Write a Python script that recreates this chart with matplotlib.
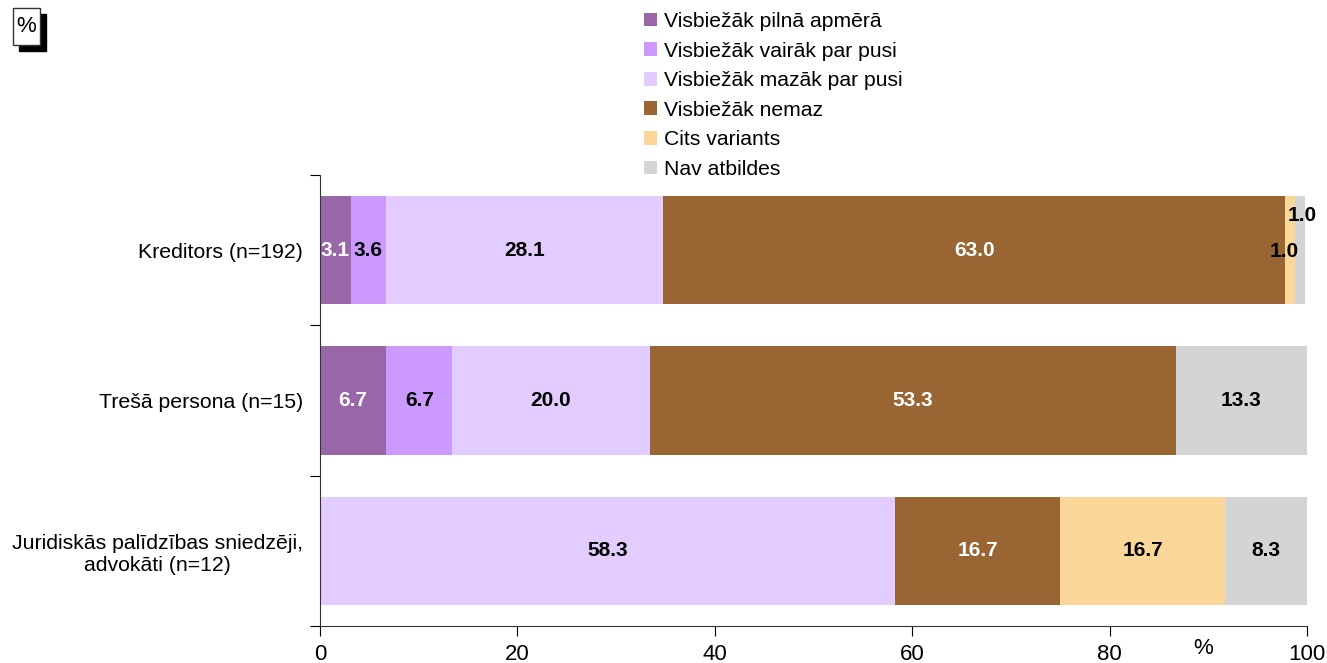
import matplotlib
matplotlib.use("Agg")
import matplotlib.pyplot as plt
from matplotlib.patches import Rectangle
import numpy as np

plt.rcParams['font.family'] = ['Liberation Sans', 'DejaVu Sans']

categories = ["Kreditors (n=192)", "Trešā persona (n=15)",
              "Juridiskās palīdzības sniedzēji,\nadvokāti (n=12)"]
series = ["Visbiežāk pilnā apmērā", "Visbiežāk vairāk par pusi",
          "Visbiežāk mazāk par pusi", "Visbiežāk nemaz",
          "Cits variants", "Nav atbildes"]
pilna = [3.1, 6.7, 0.0]
vairak = [3.6, 6.7, 0.0]
mazak = [28.1, 20.0, 58.3]
nemaz = [63.0, 53.3, 16.7]
cits = [1.0, 0.0, 16.7]
nav = [1.0, 13.3, 8.3]
values = [pilna, vairak, mazak, nemaz, cits, nav]
colors = ["#9966a8", "#cc99ff", "#e3ccff", "#996633", "#fad799", "#d4d4d4"]
label_colors = ["white", "black", "black", "white", "black", "black"]
xticks = [0, 20, 40, 60, 80, 100]

fig = plt.figure(figsize=(13.27, 6.63), dpi=100)
ax = fig.add_axes([320/1327, 1-626/663, (1307-320)/1327, (626-175)/663])

y = np.arange(len(categories))
left = np.zeros(len(categories))
handles = []
for i, (name, vals) in enumerate(zip(series, values)):
    vals = np.array(vals)
    h = ax.barh(y, vals, left=left, height=0.72, color=colors[i], label=name)
    handles.append(h)
    for j, v in enumerate(vals):
        if v <= 0:
            continue
        cx = left[j] + v / 2
        cy = y[j]
        ha = 'center'
        if j == 0 and i == 4:
            cx, cy, ha = left[j] + v + 0.4, y[j] + 0.01, 'right'
        elif j == 0 and i == 5:
            cx, cy, ha = left[j] + v + 1.2, y[j] - 0.23, 'right'
        ax.text(cx, cy, f"{v:.1f}", ha=ha, va='center', fontsize=15,
                fontweight='bold', color=label_colors[i])
    left += vals

ax.set_xlim(0, 100)
ax.set_ylim(2.5, -0.5)
ax.set_xticks(xticks)
ax.set_xticklabels([str(t) for t in xticks], fontsize=16)
ax.tick_params(axis='x', length=7, direction='out', pad=6)
ax.set_yticks([-0.5, 0.5, 1.5, 2.5])
ax.set_yticklabels([])
ax.set_yticks(y, minor=True)
ax.set_yticklabels(categories, minor=True, fontsize=15.3, ha='right',
                   multialignment='center')
ax.tick_params(axis='y', which='minor', length=0, pad=12)
ax.tick_params(axis='y', which='major', length=7)
for s in ['top', 'right']:
    ax.spines[s].set_visible(False)
ax.spines['left'].set_color('#333333')
ax.spines['bottom'].set_color('#333333')
ax.text(89.5, -0.05, "%", transform=ax.get_xaxis_transform(), fontsize=16,
        ha='center', va='center')

fig.legend(handles=handles, labels=series, loc='upper left',
           bbox_to_anchor=(644/1327, 1-12/663), frameon=False, fontsize=15.2,
           handlelength=0.62, handleheight=0.62, handletextpad=0.35,
           labelspacing=0.5, borderaxespad=0, borderpad=0)

# percent box with shadow
fig.patches.append(Rectangle((19/1327, 1-51/663), 27/1327, 37/663,
                             transform=fig.transFigure, facecolor='black',
                             edgecolor='black', zorder=1))
fig.patches.append(Rectangle((13/1327, 1-45/663), 27/1327, 37/663,
                             transform=fig.transFigure, facecolor='white',
                             edgecolor='#333333', linewidth=1, zorder=2))
fig.text(26.5/1327, 1-26/663, "%", ha='center', va='center', fontsize=16, zorder=3)

fig.savefig("out.png", dpi=100)
